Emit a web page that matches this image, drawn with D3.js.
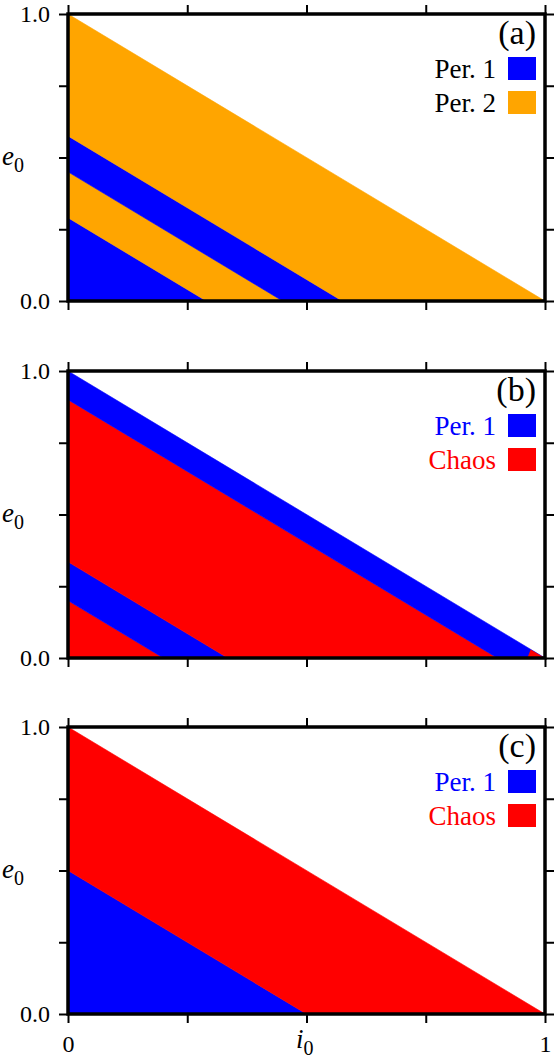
<!DOCTYPE html>
<html>
<head>
<meta charset="utf-8">
<script src="https://cdn.jsdelivr.net/npm/d3@7"></script>
<style>
  body { margin: 0; background: #fff; }
  svg text { font-family: "Liberation Serif", "Times New Roman", serif !important; }
</style>
</head>
<body>
<svg id="chart" width="554" height="1058"></svg>
<script>
// DATA: band edges are lines i0 + e0 = c inside the triangle i0 + e0 <= 1
const panelNames = ["(a)", "(b)", "(c)"];

const boundsA = [0, 0.29, 0.45, 0.575, 1];
const statesA = ["Per. 1", "Per. 2", "Per. 1", "Per. 2"];
const legendA = ["Per. 1", "Per. 2"];

const boundsB = [0, 0.2, 0.335, 0.9, 1];
const statesB = ["Chaos", "Per. 1", "Chaos", "Per. 1"];
const cornerB = [[0.963, 0], [1, 0], [0.97, 0.03]];   // little chaos patch at i0 ~ 1
const legendB = ["Per. 1", "Chaos"];

const boundsC = [0, 0.5, 1];
const statesC = ["Per. 1", "Chaos"];
const legendC = ["Per. 1", "Chaos"];

const yTicks = [0, 0.25, 0.5, 0.75, 1];
const xTicks = [0, 0.25, 0.5, 0.75, 1];

const stateNames = ["Per. 1", "Per. 2", "Chaos"];
const stateColors = ["#0000ff", "#ffa500", "#ff0000"];

// SETUP
const left = 68, plotW = 477, plotH = 287;
const tops = [14, 371, 727];
const svg = d3.select("#chart");

const x = d3.scaleLinear().domain([0, 1]).range([0, plotW]);
const y = d3.scaleLinear().domain([0, 1]).range([plotH, 0]);
const color = d3.scaleOrdinal().domain(stateNames).range(stateColors);

const poly = d3.line().x(d => x(d[0])).y(d => y(d[1]));

const panels = [
  { bounds: boundsA, states: statesA, legend: legendA, extra: null, coloredLegend: false },
  { bounds: boundsB, states: statesB, legend: legendB, extra: { pts: cornerB, state: "Chaos" }, coloredLegend: true },
  { bounds: boundsC, states: statesC, legend: legendC, extra: null, coloredLegend: true }
];

panels.forEach((p, k) => {
  const g = svg.append("g").attr("transform", `translate(${left},${tops[k]})`);
  const last = k === panels.length - 1;

  // 1: bands
  p.states.forEach((s, j) => {
    const lo = p.bounds[j], hi = p.bounds[j + 1];
    g.append("path")
      .attr("d", poly([[0, lo], [0, hi], [hi, 0], [lo, 0]]) + "Z")
      .attr("fill", color(s))
      .attr("stroke", color(s))
      .attr("stroke-width", 0.6);
  });
  if (p.extra) {
    g.append("path")
      .attr("d", poly(p.extra.pts) + "Z")
      .attr("fill", color(p.extra.state));
  }

  // 2: axes (ticks point outward on every side)
  const styleAxis = sel => {
    sel.attr("font-family", null);
    sel.select(".domain").remove();
    sel.selectAll(".tick line").attr("stroke", "#000").attr("stroke-width", 2);
    sel.selectAll("text").attr("font-size", 24).attr("fill", "#000");
  };
  g.append("g")
    .call(d3.axisLeft(y).tickValues(yTicks).tickSize(9).tickPadding(9)
      .tickFormat(d => (d === 0 || d === 1) ? d3.format(".1f")(d) : ""))
    .call(styleAxis);
  g.append("g").attr("transform", `translate(${plotW},0)`)
    .call(d3.axisRight(y).tickValues(yTicks).tickSize(9).tickFormat(""))
    .call(styleAxis);
  g.append("g")
    .call(d3.axisTop(x).tickValues(xTicks).tickSize(9).tickFormat(""))
    .call(styleAxis);
  g.append("g").attr("transform", `translate(0,${plotH})`)
    .call(d3.axisBottom(x).tickValues(xTicks).tickSize(9).tickPadding(12)
      .tickFormat(d => last && (d === 0 || d === 1) ? d3.format("d")(d) : ""))
    .call(styleAxis);

  // 3: frame
  g.append("rect")
    .attr("width", plotW).attr("height", plotH)
    .attr("fill", "none").attr("stroke", "#000").attr("stroke-width", 3.5);

  // 4: panel label and legend
  g.append("text")
    .attr("x", 468).attr("y", 30)
    .attr("text-anchor", "end").attr("font-size", 34)
    .text(panelNames[k]);

  p.legend.forEach((s, j) => {
    g.append("rect")
      .attr("x", 440).attr("y", 43 + j * 34)
      .attr("width", 28).attr("height", 23)
      .attr("fill", color(s));
    g.append("text")
      .attr("x", 428).attr("y", 64 + j * 34)
      .attr("text-anchor", "end").attr("font-size", 27)
      .attr("fill", p.coloredLegend ? color(s) : "#000")
      .text(s);
  });

  // 5: y-axis title
  const yt = g.append("text")
    .attr("x", 2 - left).attr("y", plotH / 2 + 7.5)
    .attr("font-size", 27);
  yt.append("tspan").attr("font-style", "italic").text("e");
  yt.append("tspan").attr("font-size", 20).attr("dy", 7).text("0");
});

// 6: x-axis title under the last panel
const xt = svg.append("text")
  .attr("x", 296).attr("y", 1048)
  .attr("font-size", 27);
xt.append("tspan").attr("font-style", "italic").text("i");
xt.append("tspan").attr("font-size", 20).attr("dy", 7).text("0");
</script>
</body>
</html>
